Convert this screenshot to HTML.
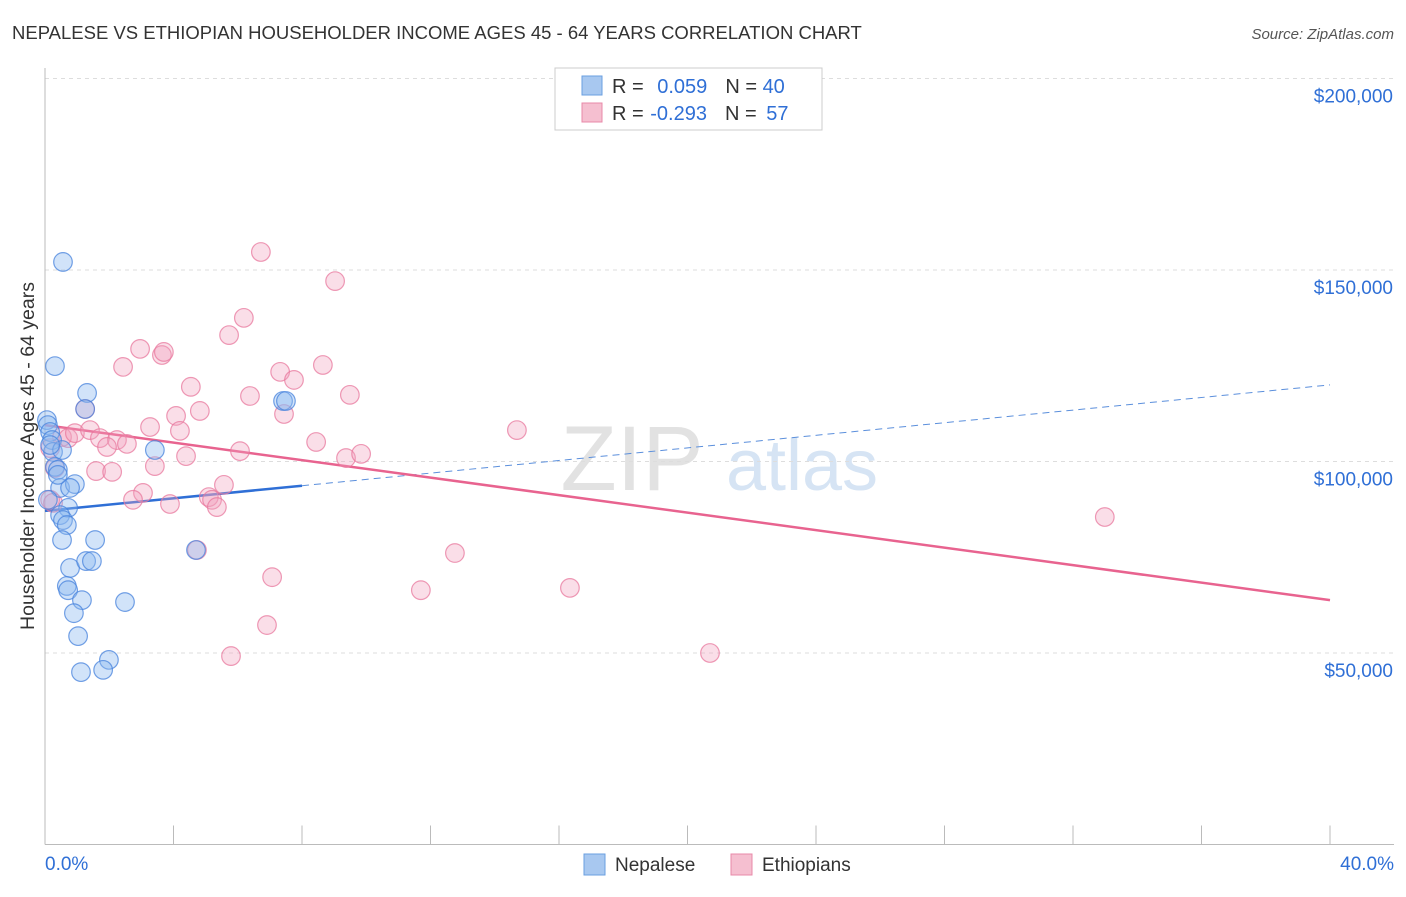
<!DOCTYPE html>
<html><head><meta charset="utf-8"><style>
body{margin:0;background:#fff;font-family:"Liberation Sans",sans-serif;}
svg text{font-family:"Liberation Sans",sans-serif;}
</style></head><body>
<svg id="chart" width="1406" height="892" viewBox="0 0 1406 892" xmlns="http://www.w3.org/2000/svg">
<text x="12" y="39" font-size="18.5" fill="#333">NEPALESE VS ETHIOPIAN HOUSEHOLDER INCOME AGES 45 - 64 YEARS CORRELATION CHART</text>
<text x="1394" y="39" font-size="15" fill="#555" font-style="italic" text-anchor="end">Source: ZipAtlas.com</text>
<g>
<text x="632" y="490" font-size="92" fill="#e2e2e2" text-anchor="middle" font-family="Liberation Serif">ZIP</text>
<text x="802" y="490" font-size="72" fill="#d6e4f4" text-anchor="middle">atlas</text>
</g>
<g id="grid"></g>
<g id="axes"></g>
<g id="trend"></g>
<g id="points"></g>
<text transform="translate(34,456) rotate(-90)" font-size="19.5" fill="#333" text-anchor="middle">Householder Income Ages 45 - 64 years</text>
<g>
<rect x="555" y="68" width="267" height="62" fill="#fff" stroke="#ccc"/>
<rect x="582" y="76" width="20" height="19" fill="#a8c8f0" stroke="#6a9fe0"/>
<rect x="582" y="103" width="20" height="19" fill="#f5bfd0" stroke="#e888a8"/>
<text x="612" y="93" font-size="20" fill="#333">R = <tspan fill="#2f6fd6" dx="8">0.059</tspan><tspan dx="18">N = </tspan><tspan fill="#2f6fd6">40</tspan></text>
<text x="612" y="120" font-size="20" fill="#333">R = <tspan fill="#2f6fd6" dx="1">-0.293</tspan><tspan dx="18">N = </tspan><tspan fill="#2f6fd6" dx="4">57</tspan></text>
</g>
<g>
<rect x="584" y="854" width="21" height="21" fill="#a8c8f0" stroke="#6a9fe0"/>
<text x="615" y="871" font-size="19" fill="#333">Nepalese</text>
<rect x="731" y="854" width="21" height="21" fill="#f5bfd0" stroke="#e888a8"/>
<text x="762" y="871" font-size="19" fill="#333">Ethiopians</text>
</g>
</svg>
<script>
const yTicks=[50000,100000,150000,200000];
const yTickLabels=["$50,000","$100,000","$150,000","$200,000"];
const xTicks=[0,4,8,12,16,20,24,28,32,36,40];
const xEndLabels=["0.0%","40.0%"];
const nepX=[0.56,0.31,1.31,1.25,3.42,0.06,0.09,0.16,0.22,0.25,0.31,0.40,0.47,0.93,0.78,0.72,0.47,0.56,0.68,0.53,1.56,0.78,1.28,1.46,0.68,0.72,1.15,2.49,0.90,1.03,1.99,1.12,1.81,4.70,7.41,7.50,0.40,0.53,0.16,0.09];
const nepY=[152100,124900,117900,113700,103000,110800,109500,107700,105600,102500,98600,97800,93100,94100,93100,87900,86000,84700,83400,79500,79500,72200,74000,74000,67500,66400,63800,63300,60400,54400,48200,45000,45600,76900,115800,115800,96500,103000,104300,90000];
const ethX=[6.72,9.03,6.19,5.73,2.96,3.64,3.70,2.43,4.54,6.38,7.32,7.75,8.65,9.49,4.82,4.08,7.44,3.27,4.20,1.25,0.53,0.72,0.93,1.40,1.71,2.24,2.55,1.93,8.44,6.07,4.39,3.42,14.69,9.37,9.84,1.59,2.09,0.31,0.16,0.16,3.05,2.74,3.89,5.57,5.10,5.20,5.35,0.25,12.76,7.07,11.70,16.34,6.91,5.79,20.70,32.99,4.73];
const ethY=[154700,147100,137500,133000,129400,127800,128600,124700,119500,117100,123400,121300,125200,117400,113200,111900,112400,109000,108000,113700,106400,106100,107400,108200,106100,105600,104600,103800,105100,102700,101400,98800,108200,100900,102000,97500,97300,98300,103500,90000,91800,90000,88900,93900,90700,90000,88100,89200,76100,69800,66400,67000,57300,49200,50000,85500,76900];
const nepTrend=[87100,120000];
const ethTrend=[109500,63800];
const nepSolidEnd=8;

const NS="http://www.w3.org/2000/svg";
const X0=45,X1=1330,YB=844.5,PX=191.5/50000;
const xs=p=>X0+(X1-X0)*p/40;
const ys=v=>YB-v*PX;
function mk(tag,attrs,parent){const e=document.createElementNS(NS,tag);for(const k in attrs)e.setAttribute(k,attrs[k]);document.getElementById(parent).appendChild(e);return e;}

yTicks.forEach((v,i)=>{
 const l=mk('line',{x1:X0,x2:1394,y1:ys(v),y2:ys(v),stroke:'#ddd','stroke-dasharray':'4,4'},'grid');
 
 
 const t=mk('text',{x:1393,y:ys(v)+24,'font-size':19,fill:'#2f6fd6','text-anchor':'end'},'grid');
 t.textContent=yTickLabels[i];
 
 
});
const ax=mk('line',{x1:X0,x2:1394,y1:YB,y2:YB,stroke:'#bbb'},'axes');


const ay=mk('line',{x1:X0,x2:X0,y1:68,y2:YB,stroke:'#bbb'},'axes');


xTicks.forEach(p=>{
 const t=mk('line',{x1:xs(p),x2:xs(p),y1:YB,y2:YB-19,stroke:'#bbb'},'axes');
 
 
});
[[0,'start',45],[40,'end',1394]].forEach((a,i)=>{
 const t=mk('text',{x:a[2],y:870,'font-size':19,fill:'#2f6fd6','text-anchor':a[1]},'axes');
 t.textContent=xEndLabels[i];
 
 
});
function tv(tr,p){return tr[0]+(tr[1]-tr[0])*p/40;}
const bd=mk('line',{x1:xs(nepSolidEnd),y1:ys(tv(nepTrend,nepSolidEnd)),x2:xs(40),y2:ys(tv(nepTrend,40)),stroke:'#5b8fdc','stroke-width':1,'stroke-dasharray':'7,5'},'trend');


const bs=mk('line',{x1:xs(0),y1:ys(tv(nepTrend,0)),x2:xs(nepSolidEnd),y2:ys(tv(nepTrend,nepSolidEnd)),stroke:'#2f6fd6','stroke-width':2.5},'trend');


const pl=mk('line',{x1:xs(0),y1:ys(tv(ethTrend,0)),x2:xs(40),y2:ys(tv(ethTrend,40)),stroke:'#e8638f','stroke-width':2.5},'trend');


ethX.forEach((p,i)=>{
 const c=mk('circle',{cx:xs(p),cy:ys(ethY[i]),r:9.3,fill:'rgba(242,160,188,0.35)',stroke:'rgba(232,120,158,0.75)','stroke-width':1.2},'points');
 
 
});
nepX.forEach((p,i)=>{
 const c=mk('circle',{cx:xs(p),cy:ys(nepY[i]),r:9.3,fill:'rgba(140,185,240,0.4)',stroke:'rgba(70,130,220,0.75)','stroke-width':1.2},'points');
 
 
});
</script>
</body></html>
